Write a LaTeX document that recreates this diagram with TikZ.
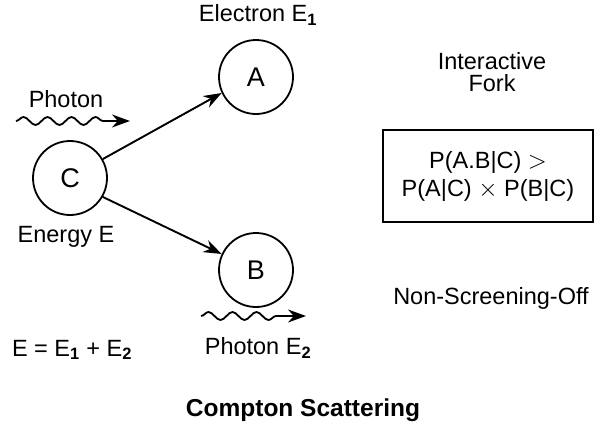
\documentclass[tikz,border=0pt]{standalone}
\usepackage{fontspec}
\setmainfont{Liberation Sans}
\usepackage{tikz}
\usetikzlibrary{
  arrows.meta,
  positioning,
  decorations.pathmorphing
}

\tikzset{
  particle/.style={circle, draw, line width=1.8pt, minimum size=74pt, inner sep=0pt,
                   font=\fontsize{27}{30}\selectfont},
  lbl/.style={font=\fontsize{23.5}{28}\selectfont, inner sep=1pt},
  ray/.style={-{Stealth[length=18pt, width=13pt]}, line width=1.9pt},
  wave/.style={-{Stealth[length=18pt, width=13pt]}, line width=1.8pt, decorate,
               decoration={snake, amplitude=4pt, segment length=24pt, post length=26pt}}
}

\begin{document}
\begin{tikzpicture}[x=1pt, y=-1pt]
\useasboundingbox (0,0) rectangle (597,426);

% particles
\node[particle] (c) at (70,178) {C};
\node[particle] (a) at (256,77) {A};
\node[particle] (b) at (256,270) {B};

\draw[ray] (c.30) -- (a.205);
\draw[ray] (c.-30) -- (b.155);

% labels around the scattering
\node[lbl] (electron) at (258,15) {Electron E$_\mathbf{1}$};
\node[lbl] (photon) at (66,99) {Photon};
\node[lbl] (energy) at (66,237) {Energy E};
\node[lbl] (photonE) at (258,348) {Photon E$_\mathbf{2}$};
\node[lbl] (sum) at (72,350) {E = E$_\mathbf{1}$ + E$_\mathbf{2}$};

% incoming and outgoing photons
\coordinate (in1) at (16,121);
\coordinate (in2) at (130,121);
\coordinate (out1) at (201,316);
\coordinate (out2) at (306,316);
\draw[wave] (in1) -- (in2);
\draw[wave] (out1) -- (out2);

% right column
\node[lbl, align=center, font=\fontsize{23.5}{22}\selectfont] (fork) at (492,72) {Interactive\\Fork};
\node[draw, line width=1.8pt, minimum width=210pt, minimum height=92pt, align=center,
      font=\fontsize{23.5}{28}\selectfont] (prob) at (488,176)
      {P(A.B|C) $>$\\P(A|C) $\times$ P(B|C)};
\node[lbl] (screen) at (491,298) {Non-Screening-Off};

% caption
\node[lbl, font=\bfseries\fontsize{24.5}{28}\selectfont] (title) at (303,410) {Compton Scattering};
\end{tikzpicture}
\end{document}
